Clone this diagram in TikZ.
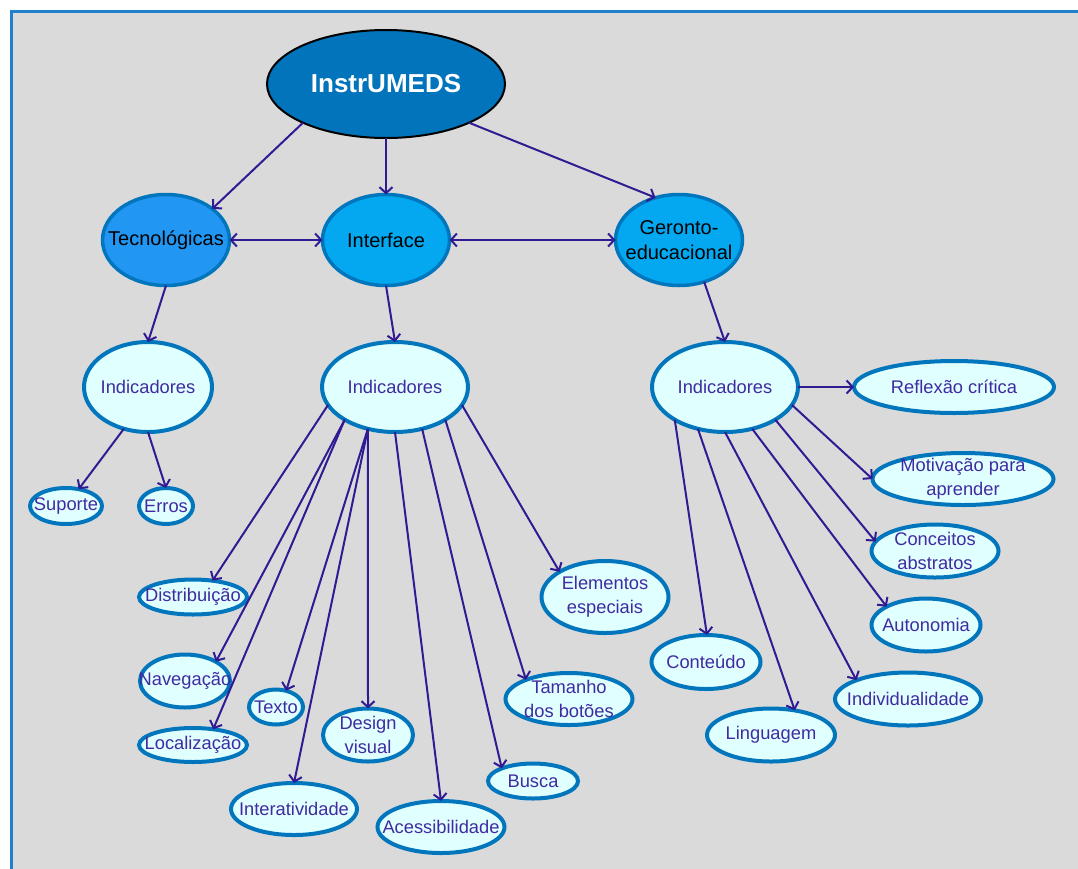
\documentclass[tikz,border=0pt]{standalone}
\usepackage{fontspec}
\setmainfont{Liberation Sans}
\usetikzlibrary{shapes.geometric,arrows.meta}

\definecolor{pageGray}{RGB}{218,218,218}
\definecolor{frameBlue}{RGB}{33,128,205}
\definecolor{rootFill}{RGB}{1,116,188}
\definecolor{tecFill}{RGB}{33,150,243}
\definecolor{catFill}{RGB}{3,168,240}
\definecolor{ovalLine}{RGB}{2,118,188}
\definecolor{leafFill}{RGB}{224,255,255}
\definecolor{leafText}{RGB}{66,42,160}
\definecolor{linkColor}{RGB}{49,27,146}

\begin{document}
\begin{tikzpicture}[x=1pt,y=-1pt,
  oval/.style={ellipse, draw=ovalLine, line width=4pt, fill=leafFill,
    inner sep=0pt, outer sep=0pt},
  sz/.style 2 args={minimum width=#1pt, minimum height=#2pt},
  lbl/.style={font=\fontsize{18.3}{24}\selectfont, text=leafText,
    align=center, inner sep=0pt},
  catlbl/.style={font=\fontsize{20}{25.5}\selectfont, text=black,
    align=center, inner sep=0pt},
  txt/.style={label={[lbl]center:#1}},
  cattxt/.style={label={[catlbl]center:#1}},
  cat/.style={oval, line width=3.5pt, fill=catFill},
  link/.style={draw=linkColor, line width=2pt,
    -{Straight Barb[length=6pt,width=13pt]}},
  both/.style={draw=linkColor, line width=2pt,
    {Straight Barb[length=6pt,width=13pt]}-{Straight Barb[length=6pt,width=13pt]}}
]
\useasboundingbox (0,0) rectangle (1078,868);
\clip (0,0) rectangle (1078,868);
\fill[white] (0,0) rectangle (1078,868);
\draw[frameBlue, line width=3pt, fill=pageGray] (11,11) rectangle (1100,890);

% top level
\node[ellipse, draw=black, line width=2pt, fill=rootFill, inner sep=0pt,
  outer sep=0pt, sz={238}{108},
  label={[font=\fontsize{26}{30}\selectfont\bfseries, text=white, inner sep=0pt]center:InstrUMEDS}]
  (root) at (386,84) {};

% categories
\node[cat, fill=tecFill, sz={127}{91}, cattxt=Tecnológicas] (tec) at (166,240) {};
\node[cat, sz={127}{91}, cattxt=Interface] (iface) at (386,240) {};
\node[cat, sz={127}{91}, cattxt={Geronto-\\educacional}] (ger) at (679,240) {};

% indicator groups
\node[oval, sz={128}{90}, txt=Indicadores] (ind1) at (148,387) {};
\node[oval, sz={146}{90}, txt=Indicadores] (ind2) at (395,387) {};
\node[oval, sz={146}{90}, txt=Indicadores] (ind3) at (725,387) {};

% technological indicators
\node[oval, sz={72}{36}, txt=Suporte] (sup) at (66,506) {};
\node[oval, sz={54}{36}, txt=Erros] (err) at (166,506) {};

% interface indicators
\node[oval, sz={108}{35}, txt=Distribuição] (dist) at (193,597) {};
\node[oval, sz={90}{53}, txt=Navegação] (nav) at (185,681) {};
\node[oval, sz={108}{34}, txt=Localização] (loc) at (193,745) {};
\node[oval, sz={54}{35}, txt=Texto] (tex) at (276,707) {};
\node[oval, sz={126}{52}, txt=Interatividade] (inter) at (294,809) {};
\node[oval, sz={90}{53}, txt={Design\\visual}] (des) at (368,735) {};
\node[oval, sz={127}{52}, txt=Acessibilidade] (acc) at (441,827) {};
\node[oval, sz={90}{35}, txt=Busca] (bus) at (533,781) {};
\node[oval, sz={127}{52}, txt={Tamanho\\dos botões}] (tam) at (569,699) {};
\node[oval, sz={127}{72}, txt={Elementos\\especiais}] (ele) at (605,597) {};

% geronto-educational indicators
\node[oval, sz={200}{52}, txt=Reflexão crítica] (ref) at (954,387) {};
\node[oval, sz={181}{52}, txt={Motivação para\\aprender}] (mot) at (963,479) {};
\node[oval, sz={127}{53}, txt={Conceitos\\abstratos}] (con) at (935,551) {};
\node[oval, sz={109}{53}, txt=Autonomia] (aut) at (926,625) {};
\node[oval, sz={109}{54}, txt=Conteúdo] (cont) at (706,662) {};
\node[oval, sz={128}{53}, txt=Linguagem] (lin) at (771,735) {};
\node[oval, sz={146}{53}, txt=Individualidade] (indv) at (908,699) {};

% links from the root
\draw[link] (root.205.2) -- (tec.34.8);
\draw[link] (root.south) -- (iface.north);
\draw[link] (root.-25.5) -- (ger.119.7);
\draw[both] (tec.east) -- (iface.west);
\draw[both] (iface.east) -- (ger.west);

% categories to indicator groups
\draw[link] (tec.south) -- (ind1.north);
\draw[link] (iface.south) -- (ind2.north);
\draw[link] (ger.-59.8) -- (ind3.north);

% technological
\draw[link] (ind1.240) -- (sup.53);
\draw[link] (ind1.south) -- (err.north);

% interface
\draw[link] (ind2.195) -- (dist.40);
\draw[link] (ind2.213) -- (nav.32);
\draw[link] (ind2.213) -- (loc.38);
\draw[link] (ind2.237) -- (tex.58);
\draw[link] (ind2.237) -- (inter.north);
\draw[link] (ind2.237) -- (des.north);
\draw[link] (ind2.south) -- (acc.north);
\draw[link] (ind2.303) -- (bus.158);
\draw[link] (ind2.327) -- (tam.156);
\draw[link] (ind2.345) -- (ele.151);

% geronto-educational
\draw[link] (ind3.east) -- (ref.west);
\draw[link] (ind3.345) -- (mot.west);
\draw[link] (ind3.327) -- (con.171);
\draw[link] (ind3.303) -- (aut.155);
\draw[link] (ind3.south) -- (indv.160);
\draw[link] (ind3.237) -- (lin.46);
\draw[link] (ind3.213) -- (cont.88);
\end{tikzpicture}
\end{document}
